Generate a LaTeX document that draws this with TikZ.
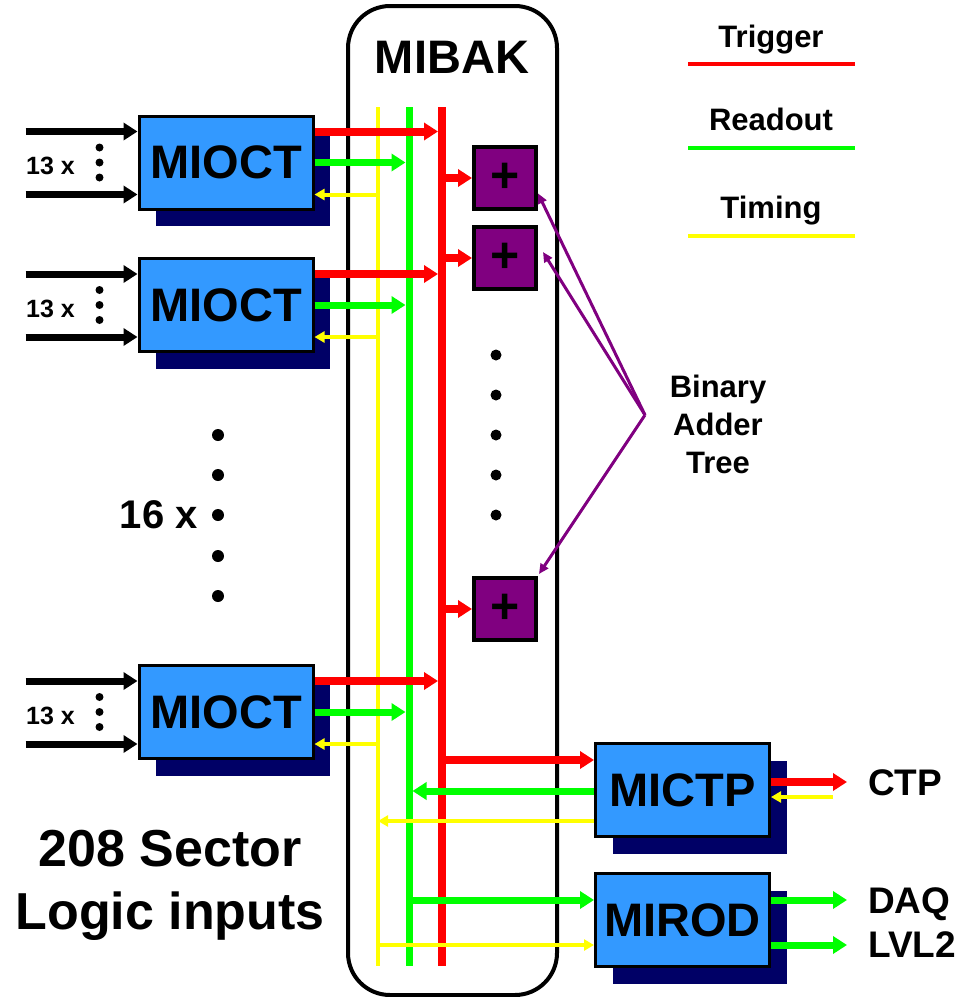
\documentclass[tikz,border=0pt]{standalone}
\usepackage{fontspec}
\setmainfont{Liberation Sans}
\usetikzlibrary{arrows.meta,calc,shadows}
\definecolor{trigred}{HTML}{FF0000}
\definecolor{readgreen}{HTML}{00FF00}
\definecolor{timyellow}{HTML}{FFFF00}
\definecolor{boardblue}{HTML}{3399FF}
\definecolor{shadownavy}{HTML}{000066}
\definecolor{adderpurple}{HTML}{800080}
\tikzset{
  board/.style={draw,line width=3pt,fill=boardblue,minimum width=174pt,minimum height=93pt,inner sep=0pt,
    font=\fontsize{47}{47}\selectfont\bfseries,
    drop shadow={shadow xshift=17pt,shadow yshift=-17pt,opacity=1,fill=shadownavy}},
  adder/.style={draw,line width=4pt,fill=adderpurple,minimum size=62pt,inner sep=0pt,
    font=\fontsize{50}{50}\selectfont\bfseries},
  lbl/.style={inner sep=0pt,font=\fontsize{#1}{#1}\selectfont\bfseries},
  trig/.style={draw=trigred,line width=8pt},
  read/.style={draw=readgreen,line width=7pt},
  tim/.style={draw=timyellow,line width=4pt},
  bigtip/.style={-{Triangle[length=14pt,width=17pt]}},
  smalltip/.style={-{Triangle[length=10pt,width=11pt]}},
}
\begin{document}
\begin{tikzpicture}[x=1pt,y=-1pt]
\useasboundingbox (0,0) rectangle (969,997);
% MIBAK crate and backplane
\node[draw,line width=4pt,rounded corners=42pt,minimum width=209pt,minimum height=989pt] (mibak) at (452.5,500.5) {};
\node[lbl=47,anchor=base] (mibaklbl) at (452,73) {MIBAK};
\draw[tim] (378,107) coordinate (ybus) -- (378,966);
\draw[read] (409,107) coordinate (gbus) -- (409,966);
\draw[trig] (442,107) coordinate (rbus) -- (442,966);

% legend
\node[lbl=31,anchor=base] (legtrig) at (771,47) {Trigger};
\node[lbl=31,anchor=base] (legread) at (771,130) {Readout};
\node[lbl=31,anchor=base] (legtim) at (771,218) {Timing};
\draw[trig,line width=4.5pt] (688,64) -- (855,64);
\draw[read,line width=4.5pt] (688,148) -- (855,148);
\draw[tim,line width=4.5pt] (688,236) -- (855,236);

% sector logic inputs -> MIOCT
\foreach \n/\y in {oct1/162.5,oct2/305,oct3/712}{
  \node[board] (\n) at (226,\y) {MIOCT};
  \draw[line width=7pt,bigtip] ($(\n.west)+(-112,-31)$) -- ($(\n.west)+(0,-31)$);
  \draw[line width=7pt,bigtip] ($(\n.west)+(-112,32)$) -- ($(\n.west)+(0,32)$);
  \node[lbl=25,anchor=base] (x\n) at ($(\n.west)+(-87,12)$) {13 x};
  \foreach \d in {-15,0,15} \fill ($(\n.west)+(-38,\d)$) circle (4pt);
  \coordinate (t\n) at ($(\n.east)+(0,-31)$);
  \coordinate (y\n) at ($(\n.east)+(0,32)$);
  \draw[trig,bigtip,shorten >=4pt] (t\n) -- (rbus |- t\n);
  \draw[read,bigtip,shorten >=3.5pt] (\n.east) -- (gbus |- \n.east);
  \draw[tim,smalltip] (ybus |- y\n) -- (y\n);
}
\foreach \y in {435,475,515,556,596} \fill (218,\y) circle (6pt);
\node[lbl=40,anchor=base east] (sixteen) at (198,528) {16 x};
\node[inner sep=0pt,font=\fontsize{52}{63}\selectfont\bfseries,align=center,anchor=north] (sectors) at (170,830) {208 Sector\\Logic inputs};

% binary adder tree
\foreach \n/\y in {add1/178,add2/258,add3/609}{
  \node[adder] (\n) at (505,\y) {+};
  \draw[trig,bigtip] (rbus |- \n.west) -- (\n.west);
}
\foreach \y in {355,395,...,515} \fill (496,\y) circle (5.5pt);
\node[inner sep=0pt,font=\fontsize{31}{38}\selectfont\bfseries,align=center,anchor=north] (treelbl) at (718,375) {Binary\\Adder\\Tree};
\coordinate (fan) at (645,415);
\draw[adderpurple,line width=3pt,-{Triangle[length=10pt,width=9pt]}] (fan) -- (add1.-25);
\draw[adderpurple,line width=3pt,-{Triangle[length=10pt,width=9pt]}] (fan) -- ($(add2.east)+(5,-6)$);
\draw[adderpurple,line width=3pt,-{Triangle[length=10pt,width=9pt]}] (fan) -- ($(add3.north east)+(1,-2)$);

% MICTP and MIROD
\node[board] (mictp) at (682.5,790) {MICTP};
\node[board] (mirod) at (682.5,920) {MIROD};
\coordinate (ctpr) at ($(mictp.west)+(0,-30)$);
\coordinate (ctpg) at ($(mictp.west)+(0,1)$);
\coordinate (ctpy) at ($(mictp.west)+(0,31)$);
\coordinate (rodg) at ($(mirod.west)+(0,-20)$);
\coordinate (rody) at ($(mirod.west)+(0,25)$);
\draw[trig,bigtip] (rbus |- ctpr) -- (ctpr);
\draw[read,bigtip,shorten >=3.5pt] (ctpg) -- (gbus |- ctpg);
\draw[tim,smalltip] (ctpy) -- (ybus |- ctpy);
\draw[read,bigtip] (gbus |- rodg) -- (rodg);
\draw[tim,smalltip] (ybus |- rody) -- (rody);

\node[lbl=37,anchor=base west] (ctp) at (868,795) {CTP};
\node[lbl=37,anchor=base west] (daq) at (868,913) {DAQ};
\node[lbl=37,anchor=base west] (lvl) at (868,957) {LVL2};
\coordinate (ctpo) at ($(mictp.east)+(0,-8)$);
\coordinate (ctpi) at ($(mictp.east)+(0,7)$);
\coordinate (rodd) at ($(mirod.east)+(0,-20)$);
\coordinate (rodl) at ($(mirod.east)+(0,25)$);
\draw[trig,bigtip] (ctpo) -- ($(ctp.west |- ctpo)+(-21,0)$);
\draw[tim,smalltip] ($(ctp.west |- ctpi)+(-35,0)$) -- (ctpi);
\draw[read,bigtip] (rodd) -- ($(daq.west |- rodd)+(-21,0)$);
\draw[read,bigtip] (rodl) -- ($(lvl.west |- rodl)+(-21,0)$);
\end{tikzpicture}
\end{document}
